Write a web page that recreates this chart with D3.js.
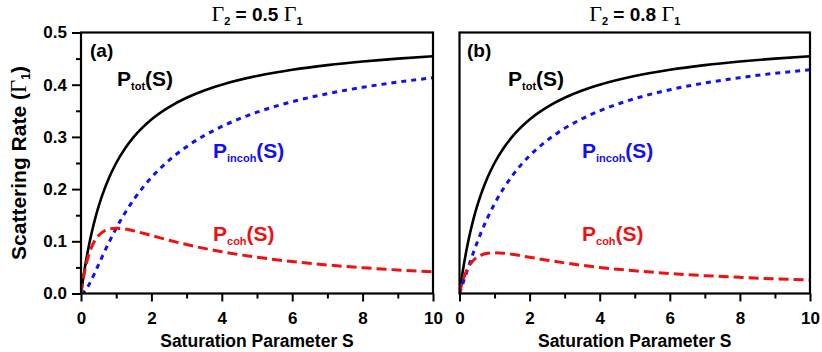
<!DOCTYPE html>
<html lang="en">
<head>
    <meta charset="UTF-8">
    <title>Scattering rate</title>
    <style>
        body { margin: 0; background: #fff; }
        text { font-family: Arial, "Liberation Sans", sans-serif; font-weight: bold; }
        .greek { font-family: "Times New Roman", "Liberation Serif", serif; font-weight: normal; }
    </style>
</head>
<body>
    <div class="canvas"></div>

    <script src="https://cdnjs.cloudflare.com/ajax/libs/d3/7.8.5/d3.min.js"></script>
    <script>
        // saturation parameter values where the curves were read
        const S = [0, 0.05, 0.1, 0.2, 0.3, 0.4, 0.5, 0.6, 0.8, 1, 1.25, 1.5, 2, 2.5, 3, 3.5, 4, 5, 6, 7, 8, 9, 10];

        // panel (a): Gamma2 = 0.5 Gamma1
        const totA   = [0, 0.0238, 0.0455, 0.0833, 0.1154, 0.1429, 0.1667, 0.1875, 0.2222, 0.25, 0.2778, 0.3, 0.3333, 0.3571, 0.375, 0.3889, 0.4, 0.4167, 0.4286, 0.4375, 0.4444, 0.45, 0.4545];
        const incohA = [0, 0.0011, 0.0042, 0.0139, 0.0266, 0.0409, 0.0556, 0.0703, 0.0987, 0.125, 0.1543, 0.18, 0.2222, 0.2551, 0.2812, 0.3025, 0.32, 0.3473, 0.3674, 0.3828, 0.395, 0.405, 0.4132];
        const cohA   = [0, 0.0227, 0.0413, 0.0694, 0.0888, 0.102, 0.1111, 0.1172, 0.1235, 0.125, 0.1235, 0.12, 0.1111, 0.102, 0.0938, 0.0864, 0.08, 0.0694, 0.0612, 0.0547, 0.0494, 0.045, 0.0413];

        // panel (b): Gamma2 = 0.8 Gamma1
        const totB   = [0, 0.0238, 0.0455, 0.0833, 0.1154, 0.1429, 0.1667, 0.1875, 0.2222, 0.25, 0.2778, 0.3, 0.3333, 0.3571, 0.375, 0.3889, 0.4, 0.4167, 0.4286, 0.4375, 0.4444, 0.45, 0.4545];
        const incohB = [0, 0.0096, 0.0197, 0.0399, 0.0599, 0.0791, 0.0973, 0.1143, 0.145, 0.1719, 0.2006, 0.225, 0.2639, 0.2933, 0.3164, 0.3349, 0.35, 0.3733, 0.3903, 0.4033, 0.4135, 0.4219, 0.4287];
        const cohB   = [0, 0.0142, 0.0258, 0.0434, 0.0555, 0.0638, 0.0694, 0.0732, 0.0772, 0.0781, 0.0772, 0.075, 0.0694, 0.0638, 0.0586, 0.054, 0.05, 0.0434, 0.0383, 0.0342, 0.0309, 0.0281, 0.0258];

        const xTicks = [0, 2, 4, 6, 8, 10];
        const xMinor = [1, 3, 5, 7, 9];
        const yTicks = [0, 0.1, 0.2, 0.3, 0.4, 0.5];
        const yMinor = [0.05, 0.15, 0.25, 0.35, 0.45];

        const svg = d3.select(".canvas").append("svg")
            .attr("width", 822)
            .attr("height", 352);

        const yTop = 32.5, yBottom = 293.5;
        const y = d3.scaleLinear().domain([0, 0.5]).range([yBottom, yTop]);

        const panels = [
            { id: "a", left: 81, right: 433, ratio: "0.5", tot: totA, incoh: incohA, coh: cohA, yAxis: true,
              tag: [90, 57], totPos: [117, 86], incohPos: [213, 158], cohPos: [213, 241] },
            { id: "b", left: 459.5, right: 810, ratio: "0.8", tot: totB, incoh: incohB, coh: cohB, yAxis: false,
              tag: [467, 57], totPos: [508, 86], incohPos: [582, 158], cohPos: [582, 241] }
        ];

        const blue = "#1010f5", red = "#f01010";

        panels.forEach(p => {
            const x = d3.scaleLinear().domain([0, 10]).range([p.left, p.right]);
            const g = svg.append("g");
            const mid = (p.left + p.right) / 2;

            g.append("clipPath").attr("id", "clip" + p.id)
                .append("rect")
                .attr("x", p.left).attr("y", yTop)
                .attr("width", p.right - p.left).attr("height", yBottom - yTop);

            const line = vals => d3.line()
                .x((d, i) => x(S[i]))
                .y(d => y(d))
                .curve(d3.curveMonotoneX)(vals);

            const curves = g.append("g").attr("clip-path", `url(#clip${p.id})`);
            curves.append("path").attr("d", line(p.tot))
                .attr("fill", "none").attr("stroke", "#000").attr("stroke-width", 2.6);
            curves.append("path").attr("d", line(p.incoh))
                .attr("fill", "none").attr("stroke", blue).attr("stroke-width", 3)
                .attr("stroke-dasharray", "5,5");
            curves.append("path").attr("d", line(p.coh))
                .attr("fill", "none").attr("stroke", red).attr("stroke-width", 3)
                .attr("stroke-dasharray", "10,5");

            // x axis
            g.append("g").attr("transform", `translate(0,${yBottom})`)
                .call(d3.axisBottom(x).tickValues(xTicks).tickSize(8).tickFormat(d3.format("d")))
                .selectAll(".tick text").attr("y", 18);
            g.append("g").attr("transform", `translate(0,${yBottom})`)
                .call(d3.axisBottom(x).tickValues(xMinor).tickSize(5).tickFormat(""));

            if (p.yAxis) {
                g.append("g").attr("transform", `translate(${p.left},0)`)
                    .call(d3.axisLeft(y).tickValues(yTicks).tickSize(9).tickFormat(d3.format(".1f")))
                    .selectAll(".tick text").attr("x", -14);
                g.append("g").attr("transform", `translate(${p.left},0)`)
                    .call(d3.axisLeft(y).tickValues(yMinor).tickSize(5).tickFormat(""));
            }

            g.selectAll(".domain").remove();
            g.selectAll(".tick line").attr("stroke", "#000").attr("stroke-width", 2);
            g.selectAll(".tick text")
                .attr("font-family", "Arial, 'Liberation Sans', sans-serif")
                .attr("font-weight", "bold")
                .attr("font-size", 17)
                .attr("fill", "#000");

            // frame
            g.append("rect")
                .attr("x", p.left).attr("y", yTop)
                .attr("width", p.right - p.left).attr("height", yBottom - yTop)
                .attr("fill", "none").attr("stroke", "#000").attr("stroke-width", 2.2);

            // title
            const t = g.append("text").attr("x", mid).attr("y", 21)
                .attr("text-anchor", "middle").attr("font-size", 19);
            t.append("tspan").attr("class", "greek").attr("font-size", 22).text("Γ");
            t.append("tspan").attr("font-size", 11).attr("dy", 4).text("2");
            t.append("tspan").attr("dy", -4).text(" = " + p.ratio + " ");
            t.append("tspan").attr("class", "greek").attr("font-size", 22).text("Γ");
            t.append("tspan").attr("font-size", 11).attr("dy", 4).text("1");

            // x axis title
            g.append("text").attr("x", mid).attr("y", 347)
                .attr("text-anchor", "middle").attr("font-size", 17.5)
                .text("Saturation Parameter S");

            // panel tag
            g.append("text").attr("x", p.tag[0]).attr("y", p.tag[1])
                .attr("font-size", 19).text("(" + p.id + ")");

            const label = (pos, sub, color) => {
                const lt = g.append("text").attr("x", pos[0]).attr("y", pos[1])
                    .attr("font-size", 21).attr("fill", color);
                lt.append("tspan").text("P");
                lt.append("tspan").attr("font-size", 11).attr("dy", 4).text(sub);
                lt.append("tspan").attr("dy", -4).text("(S)");
            };
            label(p.totPos, "tot", "#000");
            label(p.incohPos, "incoh", blue);
            label(p.cohPos, "coh", red);
        });

        // y axis title
        const yt = svg.append("text")
            .attr("transform", "translate(26,163) rotate(-90)")
            .attr("text-anchor", "middle").attr("font-size", 21);
        yt.append("tspan").text("Scattering Rate (");
        yt.append("tspan").attr("class", "greek").attr("font-size", 23).text("Γ");
        yt.append("tspan").attr("font-size", 12).attr("dy", 4).text("1");
        yt.append("tspan").attr("dy", -4).text(")");
    </script>
</body>
</html>
